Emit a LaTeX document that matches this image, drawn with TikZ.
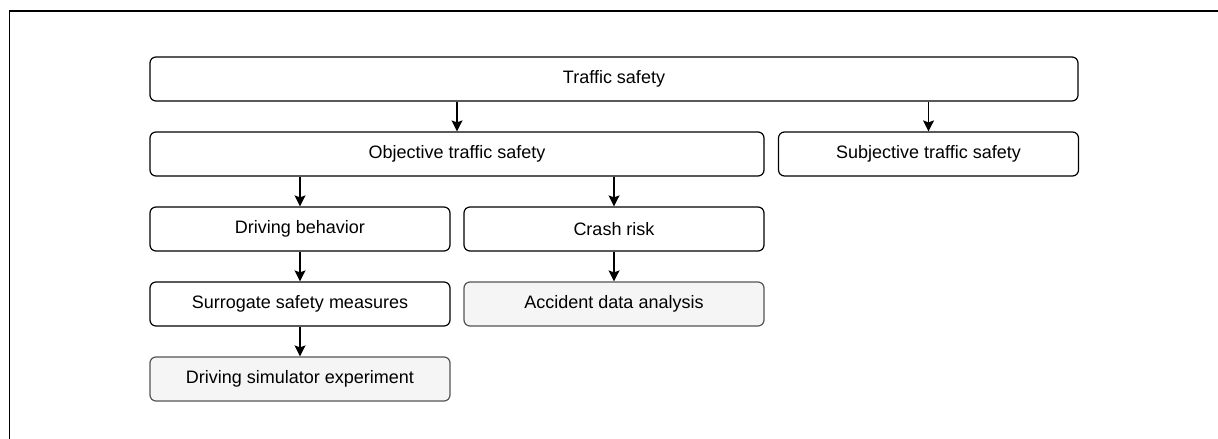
\documentclass[tikz,border=0pt]{standalone}
\usepackage{fontspec}
\setmainfont{Liberation Sans}
\usetikzlibrary{positioning}
\usetikzlibrary{arrows.meta}

\definecolor{boxgray}{HTML}{F5F5F5}
\definecolor{edgegray}{HTML}{555555}

\tikzset{
    box/.style={draw,line width=1.2pt,rounded corners=6pt,minimum height=44pt,inner sep=0pt,font=\fontsize{18}{22}\selectfont},
    graybox/.style={box,fill=boxgray,draw=edgegray}
}

\begin{document}
\begin{tikzpicture}[x=1pt,y=1pt,->,>={Stealth[length=11pt,width=11pt,inset=2pt]},line width=1.2pt,node distance=75pt,on grid]
        \useasboundingbox (0,0) rectangle (1218,-439);
        \draw[-,line width=1.5pt] (9.5,-439) -- (9.5,-11) -- (1218,-11);
        \node[box,minimum width=928pt] (traffic) at (614,-79) {Traffic safety};
        \node[box,minimum width=614pt] (obj) at (457,-154) {Objective traffic safety};
        \node[box,minimum width=300pt] (subj) at (928.5,-154) {Subjective traffic safety};
        \node[box,minimum width=300pt] (drive) at (300,-229) {Driving behavior};
        \node[box,minimum width=300pt] (crash) [right=314pt of drive] {Crash risk};
        \node[box,minimum width=300pt] (surr) [below=of drive] {Surrogate safety measures};
        \node[graybox,minimum width=300pt] (accident) [below=of crash] {Accident data analysis};
        \node[graybox,minimum width=300pt] (sim) [below=of surr] {Driving simulator experiment};
        \draw (traffic.south -| obj.north) -- (obj.north);
        \draw (traffic.south -| subj.north) -- (subj.north);
        \draw (obj.south -| drive.north) -- (drive.north);
        \draw (obj.south -| crash.north) -- (crash.north);
        \draw (drive) -- (surr);
        \draw (surr) -- (sim);
        \draw (crash) -- (accident);
    \end{tikzpicture}
\end{document}
